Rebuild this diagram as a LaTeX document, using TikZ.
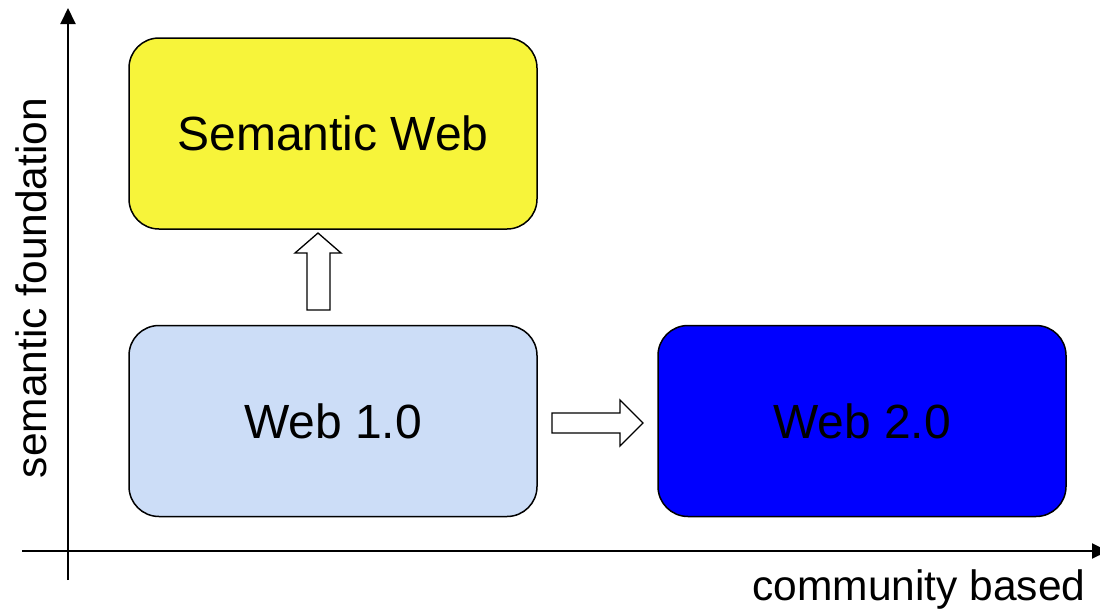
\documentclass[tikz,border=0pt]{standalone}
\usepackage{fontspec}
\setmainfont{Liberation Sans}
\usetikzlibrary{arrows.meta}
\definecolor{semyellow}{RGB}{247,244,58}
\definecolor{weblight}{RGB}{204,221,247}
\definecolor{webblue}{RGB}{0,0,255}
\begin{document}
\begin{tikzpicture}[x=1pt,y=-1pt,
  box/.style={draw=black,line width=1.5pt,rounded corners=30pt,minimum width=408pt,minimum height=191pt,inner sep=0pt,font=\fontsize{48}{52}\selectfont},
  axis/.style={line width=2pt,-{Triangle[length=16pt,width=15pt]}},
  axlabel/.style={font=\fontsize{42.5}{46}\selectfont,inner sep=0pt},
  blockarrow/.style={draw=black,line width=1.3pt,fill=white,line join=miter}
]
\useasboundingbox (0,0) rectangle (1100,611);
\fill[white] (0,0) rectangle (1100,611);
\coordinate (ybot) at (68,580);
\coordinate (ytop) at (68,8);
\coordinate (xleft) at (22,551);
\coordinate (xright) at (1108,551);
\draw[axis] (ybot) -- (ytop);
\draw[axis] (xleft) -- (xright);
\node[box,fill=semyellow] (sw) at (333,133.5) {Semantic Web};
\node[box,fill=weblight] (w1) at (333,421) {Web 1.0};
\node[box,fill=webblue] (w2) at (862,421) {Web 2.0};
% block arrow up
\draw[blockarrow] (307,310) -- (307,253) -- (295,253) -- (318,233) -- (341,253) -- (330,253) -- (330,310) -- cycle;
% block arrow right
\draw[blockarrow] (552,413) -- (620,413) -- (620,400) -- (643,423) -- (620,446) -- (620,433) -- (552,433) -- cycle;
\node[axlabel,rotate=90] (ylab) at (31,288) {semantic foundation};
\node[axlabel] (xlab) at (919,590) {community based};
\end{tikzpicture}
\end{document}
